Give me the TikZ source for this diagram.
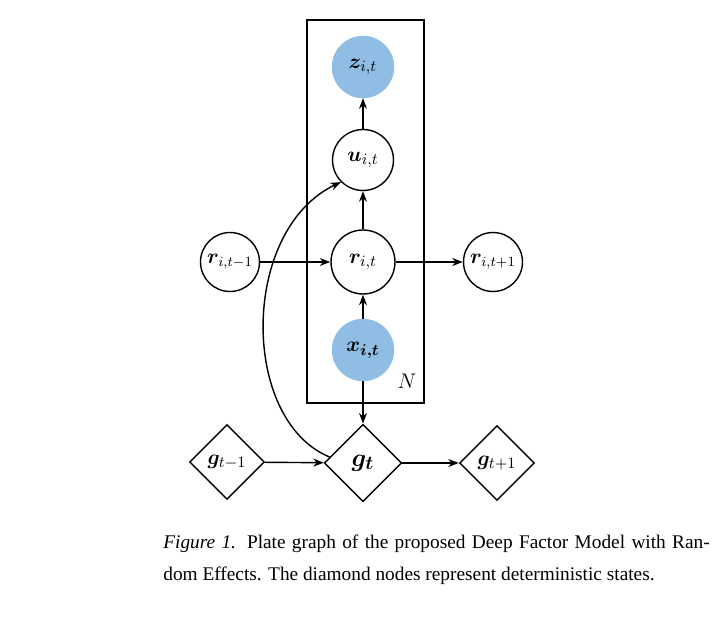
\documentclass[tikz,border=0pt]{standalone}
\usepackage{amsmath, amssymb, bm}
\usepackage{fontspec}
\setmainfont{Liberation Serif}
\usepackage{tikz}
\usetikzlibrary{shapes.geometric, arrows.meta}

\definecolor{obsblue}{HTML}{8FBDE3}
\tikzset{
    var/.style={circle, draw=black, thick, minimum size=1.22cm, inner sep=0pt, font=\fontsize{13}{13}\selectfont},
    obs/.style={var, fill=obsblue, draw=obsblue},
    side/.style={var, minimum size=1.18cm, font=\fontsize{11.5}{11.5}\selectfont},
    det/.style={diamond, draw=black, thick, minimum size=1.5cm, inner sep=0pt, font=\fontsize{13}{13}\selectfont},
    edge/.style={-{Stealth[length=6pt]}, thick}
}

\begin{document}
\begin{tikzpicture}[x=0.02cm, y=-0.02cm]
    \useasboundingbox (0,0) rectangle (724,622);

    \draw[thick] (307,20) rectangle (424,403);
    \node (n) at (407,381) {\fontsize{12}{12}\selectfont $N$};

    \node[obs] (z) at (363,67) {$\bm{z}_{i,t}$};
    \node[var] (u) at (363,160) {$\bm{u}_{i,t}$};
    \node[var, minimum size=1.28cm] (r) at (363,262) {$\bm{r}_{i,t}$};
    \node[obs] (x) at (363,350) {$\bm{x_{i,t}}$};
    \node[side] (rp) at (230,262) {$\bm{r}_{i,t-1}$};
    \node[side] (rn) at (493,262) {$\bm{r}_{i,t+1}$};

    \node[det, minimum size=1.55cm] (g) at (363,463) {\fontsize{15}{15}\selectfont $\bm{g_t}$};
    \node[det] (gp) at (227,462) {$\bm{g}_{t-1}$};
    \node[det] (gn) at (497,463) {$\bm{g}_{t+1}$};

    \draw[edge] (x) -- (r);
    \draw[edge] (r) -- (u);
    \draw[edge] (u) -- (z);
    \draw[edge] (rp) -- (r);
    \draw[edge] (r) -- (rn);
    \draw[edge] (x) -- (g);
    \draw[edge] (gp) -- (g);
    \draw[edge] (g) -- (gn);
    \draw[edge] (g.west) ++(6,-6) .. controls (240,420) and (240,230) .. (u.south west);

    \node[text width=311pt, align=justify, anchor=north west, inner sep=0pt,
          font=\fontsize{11}{18.2}\selectfont] (cap) at (163,535)
        {\textit{Figure 1.} Plate graph of the proposed Deep Factor Model with Ran-\linebreak
         dom Effects. The diamond nodes represent deterministic states.};
\end{tikzpicture}
\end{document}
